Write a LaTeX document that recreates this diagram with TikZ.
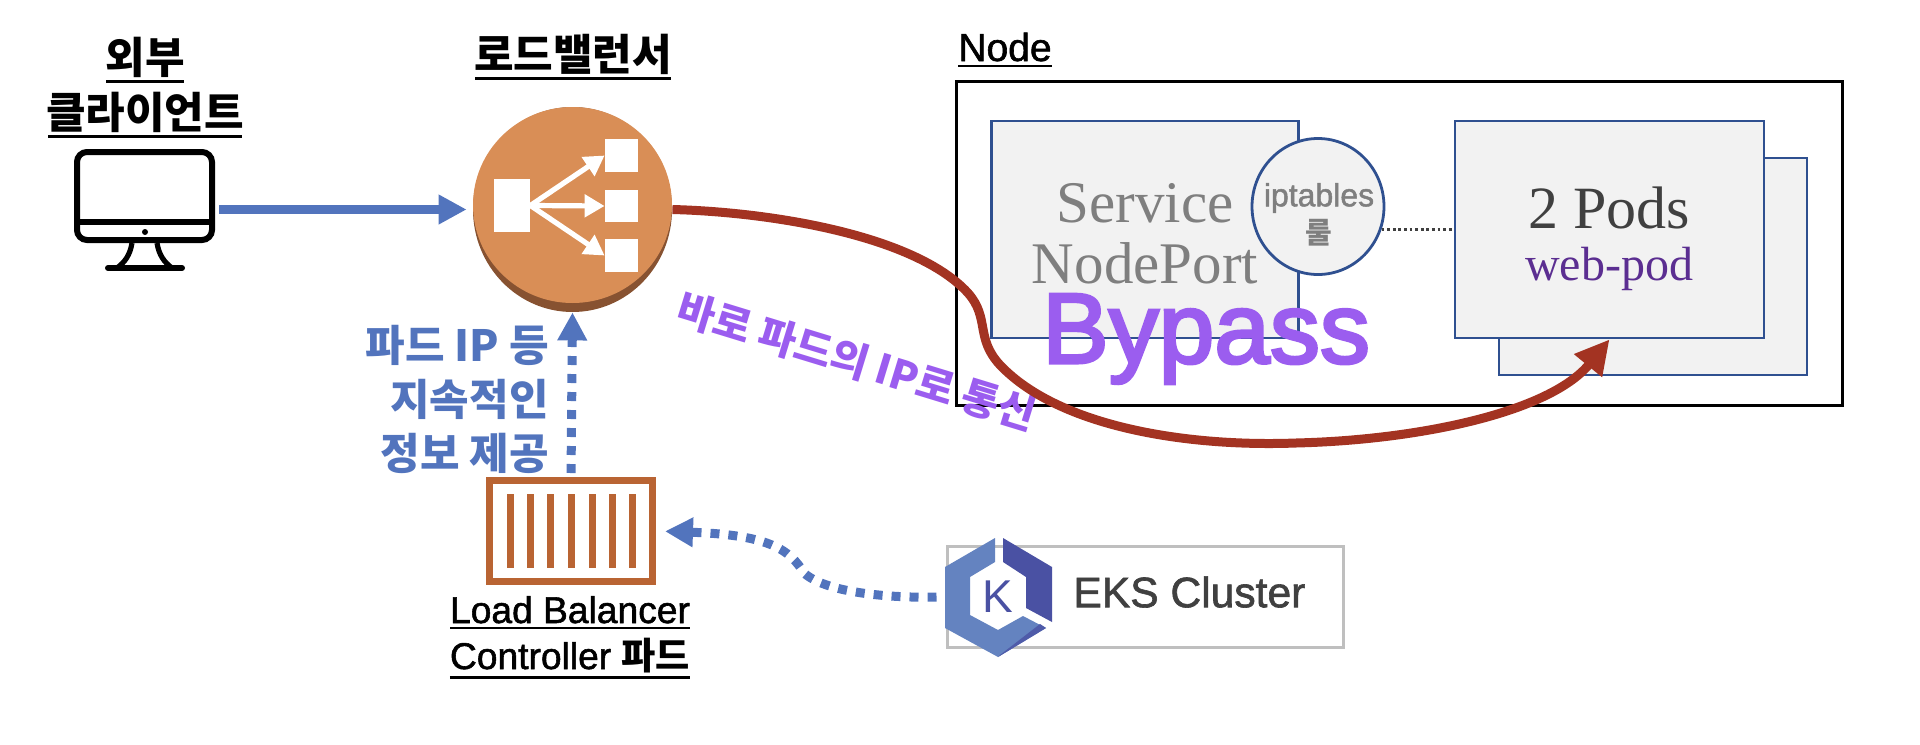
\documentclass[tikz,border=0pt]{standalone}
\usepackage{fontspec}
\usepackage{xcolor}
\usetikzlibrary{arrows.meta,calc,positioning,shapes.geometric}
\setmainfont{Liberation Serif}
\newfontfamily\sansfont{Liberation Sans}
\newfontfamily\heavyfont[FakeBold=1.5]{Liberation Sans}
\newfontfamily\bypassfont[FakeBold=3]{Liberation Sans}
\newfontfamily\krfont{Noto Sans CJK KR}
\definecolor{ElbOrange}{HTML}{D98E56}
\definecolor{ElbShade}{HTML}{875231}
\definecolor{CtrlOrange}{HTML}{B96433}
\definecolor{FlowBlue}{HTML}{5274BD}
\definecolor{BoxLine}{HTML}{2F5090}
\definecolor{BoxFill}{HTML}{F2F2F2}
\definecolor{BypassRed}{HTML}{A33322}
\definecolor{BypassViolet}{HTML}{9B5DEF}
\definecolor{PodViolet}{HTML}{5B2E91}
\definecolor{TextGray}{HTML}{7F7F7F}
\definecolor{TextDark}{HTML}{404040}
\definecolor{EksLight}{HTML}{6483C0}
\definecolor{EksDark}{HTML}{4A51A3}
\newcommand{\ulined}[1]{\vtop{\hbox{#1}\kern1.6pt\hrule height 1.4pt}}
\tikzset{
  podbox/.style={draw=BoxLine,fill=BoxFill,line width=1.4pt,inner sep=0pt},
  whitebox/.style={fill=white,inner sep=0pt},
  headlabel/.style={anchor=base,inner sep=0pt,font=\krfont\bfseries\fontsize{21.5}{26}\selectfont},
  ctrllabel/.style={anchor=base,inner sep=0pt,font=\heavyfont\fontsize{18.6}{23}\selectfont},
  dotflow/.style={FlowBlue,line width=4.5pt,dash pattern=on 4.5pt off 4.5pt,-{Triangle[length=14pt,width=14pt]}}
}
\begin{document}
\begin{tikzpicture}[x=0.5pt,y=-0.5pt]
  \useasboundingbox (0,0) rectangle (1920,744);

  \node[headlabel] (clienttop) at (145,73) {\ulined{\makebox[39pt]{외부}}};
  \node[headlabel] (clientbot) at (145,128) {\ulined{\makebox[97pt]{클라이언트}}};
  \node[headlabel] (lbtitle) at (573,70) {\ulined{\makebox[98pt]{로드밸런서}}};
  \node[anchor=base,inner sep=0pt,font=\heavyfont\fontsize{19.5}{23}\selectfont] (nodetitle)
    at (1005,61) {\ulined{Node}};

  \node[draw=black,line width=3pt,rounded corners=5pt,minimum width=67.5pt,minimum height=44pt,inner sep=0pt] (monitor)
    at (144.5,196) {};
  \draw[black,line width=2.6pt] (76,222) -- (213,222);
  \fill[black] (145,232) circle (3);
  \draw[black,line width=2.6pt] (132,243) .. controls (130,255) and (125,262) .. (117,268);
  \draw[black,line width=2.6pt] (157,243) .. controls (159,255) and (164,262) .. (172,268);
  \draw[black,line width=3pt,line cap=round] (108,268) -- (182,268);

  \node[ellipse,fill=ElbShade,minimum width=99.5pt,minimum height=102.5pt,inner sep=0pt] (lb) at (572.5,209.5) {};
  \node[ellipse,fill=ElbOrange,minimum width=99.5pt,minimum height=98pt,inner sep=0pt] (lbface) at (572.5,205) {};
  \node[whitebox,minimum width=18pt,minimum height=26.5pt] (lbsrc) at (512,205.5) {};
  \node[whitebox,minimum width=16.5pt,minimum height=16.5pt] (lbdsta) at (621.5,155.5) {};
  \node[whitebox,minimum width=16.5pt,minimum height=16pt] (lbdstb) at (621.5,206) {};
  \node[whitebox,minimum width=16.5pt,minimum height=16.5pt] (lbdstc) at (621.5,255.5) {};
  \foreach \lbdst in {lbdsta,lbdstb,lbdstc}
    \draw[white,line width=2.6pt,-{Triangle[length=10pt,width=11pt]}] (lbsrc.east) -- (\lbdst.west);

  \draw[FlowBlue,line width=4.7pt,-{Triangle[length=14pt,width=14pt]},shorten <=2pt,shorten >=3pt]
    (monitor.east |- lb.west) -- (lb.west);

  \node[draw=black,line width=1.5pt,minimum width=443pt,minimum height=162pt,inner sep=0pt] (nodebox)
    at (1399.5,243.5) {};
  \node[podbox,minimum width=153.5pt,minimum height=108.5pt] (svcbox) at (1145,229.5) {};
  \node[font=\fontsize{29.5}{30.5}\selectfont,text=TextGray,align=center,inner sep=0pt] (svctext)
    at (1145,234) {Service\\NodePort};
  \node[podbox,ellipse,minimum width=66pt,minimum height=68pt] (ipt) at (1318,206.5) {};
  \node[font=\heavyfont\fontsize{16}{19}\selectfont,text=TextGray,inner sep=0pt] (ipttext) at (1319,198) {iptables};
  \node[font=\krfont\bfseries\fontsize{14.5}{16}\selectfont,text=TextGray,inner sep=0pt] (iptrule) at (1319,233) {룰};

  \node[podbox,minimum width=154pt,minimum height=108.5pt] (podback) at (1653,266.5) {};
  \node[podbox,minimum width=154.5pt,minimum height=108.5pt] (pod) at (1609.5,229.5) {};
  \node[font=\fontsize{30}{34}\selectfont,text=TextDark,inner sep=0pt] (podtext) at (1609,208) {2 Pods};
  \node[font=\fontsize{24}{28}\selectfont,text=PodViolet,inner sep=0pt] (podname) at (1609,269) {web-pod};
  \draw[TextDark,line width=1.4pt,dash pattern=on 1.4pt off 1.4pt] (ipt.-20) -- (ipt.-20 -| pod.west);

  \node[anchor=base,font=\bypassfont\fontsize{50}{56}\selectfont,text=BypassViolet,inner sep=0pt] (bypass)
    at (1206,363) {Bypass};
  \node[rotate=-17,font=\krfont\bfseries\fontsize{20.5}{24}\selectfont,text=BypassViolet,inner sep=0pt] (bypassnote)
    at (857,361) {바로 파드의 IP로 통신};

  \draw[BypassRed,line width=4.5pt,-{Triangle[length=17pt,width=17pt]}]
    (lb.east) .. controls (770,212) and (915,235) .. (968,293)
    .. controls (990,318) and (975,338) .. (1000,365)
    .. controls (1060,428) and (1190,447) .. (1296,443)
    .. controls (1420,440) and (1550,412) .. (pod.south);

  \node[align=right,font=\krfont\bfseries\fontsize{21.5}{27}\selectfont,text=FlowBlue,inner sep=0pt] (infotext)
    [anchor=east] at (549,399) {파드 IP 등\\지속적인\\정보 제공};

  \node[draw=CtrlOrange,fill=white,line width=3.5pt,minimum width=81.5pt,minimum height=50.5pt,inner sep=0pt] (ctrl)
    at (571,531) {};
  \foreach \barx in {510,530,550,571,592,612,632}
    \fill[CtrlOrange] (\barx-3.5,494) rectangle (\barx+3.5,568);
  \draw[dotflow,shorten <=2pt] (ctrl.north) -- (lb.south);
  \node[ctrllabel] (ctrltop) at (570,623) {\ulined{Load Balancer}};
  \node[ctrllabel] (ctrlbot) at (570,669) {\ulined{Controller {\krfont\bfseries 파드}}};

  \node[draw=black!25,fill=white,line width=1.5pt,minimum width=198pt,minimum height=50.5pt,inner sep=0pt] (eksbox)
    at (1145,597) {};
  \fill[EksLight] (995,538) -- (945,567) -- (945,628) -- (998,657) -- (1046,628) -- (1023,616)
    -- (998,630) -- (970,615) -- (970,577) -- (995,562) -- cycle;
  \fill[EksDark] (1003,538) -- (1052,567) -- (1052,622) -- (1026,608) -- (1026,577) -- (1003,562) -- cycle;
  \fill[EksDark!80!EksLight] (1046,628) -- (1040,624) -- (1000,655) -- (998,657) -- cycle;
  \node[font=\sansfont\fontsize{23}{26}\selectfont,text=EksDark,inner sep=0pt] (ekslogo) at (998,597) {K};
  \node[anchor=west,font=\heavyfont\fontsize{21.3}{25}\selectfont,text=TextDark,inner sep=0pt] (ekstext)
    at (1073,592) {EKS Cluster};
  \draw[dotflow,shorten <=4.5pt,shorten >=4.5pt]
    (eksbox.west) .. controls (885,598) and (825,592) .. (804,573)
    .. controls (790,550) and (770,535) .. (ctrl.east);
\end{tikzpicture}
\end{document}
